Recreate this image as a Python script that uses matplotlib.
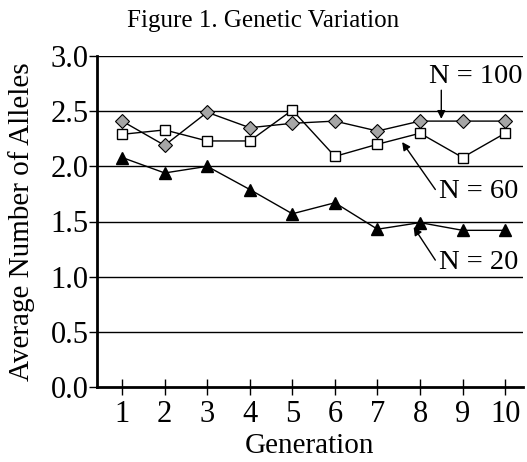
import matplotlib
matplotlib.use("Agg")
import matplotlib.pyplot as plt

generations = [1, 2, 3, 4, 5, 6, 7, 8, 9, 10]
n100 = [2.41, 2.19, 2.49, 2.35, 2.39, 2.41, 2.32, 2.41, 2.41, 2.41]
n60 = [2.29, 2.33, 2.23, 2.23, 2.51, 2.09, 2.20, 2.30, 2.08, 2.30]
n20 = [2.08, 1.94, 2.00, 1.79, 1.57, 1.67, 1.43, 1.49, 1.42, 1.42]
yticks = [0.0, 0.5, 1.0, 1.5, 2.0, 2.5, 3.0]

plt.rcParams['font.family'] = ['Liberation Serif', 'DejaVu Serif']
fig = plt.figure(figsize=(5.27, 4.62), dpi=100)
ax = fig.add_axes([97/527, 1-387/462, (523-97)/527, (387-56)/462])

for y in yticks[1:]:
    ax.axhline(y, color='black', lw=1.0, zorder=1)

ax.plot(generations, n20, color='black', lw=1.0, marker='^', ms=9,
        mfc='black', mec='black', zorder=3)
ax.plot(generations, n60, color='black', lw=1.0, marker='s', ms=7.5,
        mfc='white', mec='black', mew=1.0, zorder=4)
ax.plot(generations, n100, color='black', lw=1.0, marker='D', ms=7.5,
        mfc='#a6a6a6', mec='black', mew=0.8, zorder=3)

ax.set_xlim(0.41, 10.42)
ax.set_ylim(0, 3.0)
ax.set_xticks(generations)
ax.set_yticks(yticks)
ax.set_yticklabels([f"{v:.1f}" for v in yticks])
ax.tick_params(axis='both', labelsize=22, color='black', width=1.0)
ax.tick_params(axis='x', direction='inout', length=12, pad=3)
ax.tick_params(axis='y', direction='out', length=6, pad=0)
for s in ['top', 'right']:
    ax.spines[s].set_visible(False)
for s in ['left', 'bottom']:
    ax.spines[s].set_linewidth(2.0)

ax.set_xlabel('Generation', fontsize=21, labelpad=3)
ax.set_ylabel('Average Number of Alleles', fontsize=21, labelpad=11)
fig.text(0.5, 1-21/462, 'Figure 1. Genetic Variation', ha='center', va='center', fontsize=18)

akw = dict(arrowstyle='-|>', color='black', lw=1.0, mutation_scale=12,
           shrinkA=0, shrinkB=0)
ax.text(10.40, 2.81, 'N = 100', fontsize=20.5, ha='right', va='center')
ax.annotate('', xy=(8.5, 2.43), xytext=(8.5, 2.69), arrowprops=akw)
ax.text(8.44, 1.77, 'N = 60', fontsize=20.5, ha='left', va='center')
ax.annotate('', xy=(7.58, 2.22), xytext=(8.36, 1.79), arrowprops=akw)
ax.text(8.44, 1.13, 'N = 20', fontsize=20.5, ha='left', va='center')
ax.annotate('', xy=(7.85, 1.45), xytext=(8.36, 1.15), arrowprops=akw)

fig.savefig('out.png', dpi=100)
